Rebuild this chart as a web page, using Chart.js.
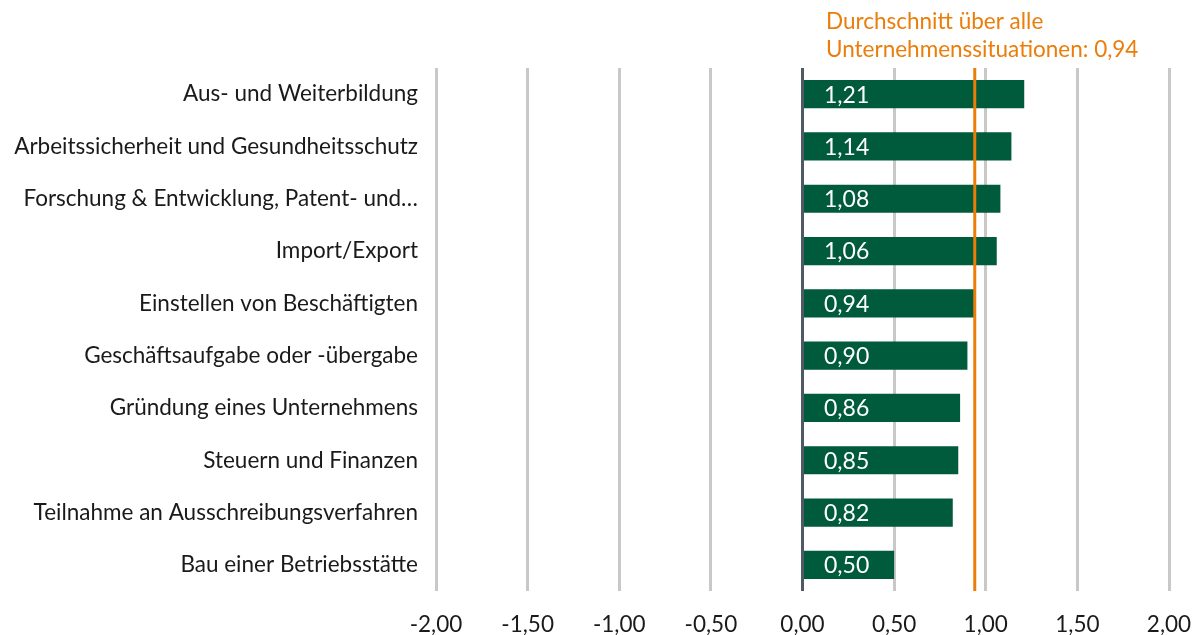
<!DOCTYPE html>
<html>
<head>
<meta charset="utf-8">
<script src="https://cdn.jsdelivr.net/npm/chart.js@4"></script>
<style>
  html, body { margin: 0; padding: 0; background: #fff; }
</style>
</head>
<body>
<canvas id="chart" width="1200" height="635"></canvas>
<script>
// Unternehmenssituationen, Mittelwerte
const situations = ["Aus- und Weiterbildung", "Arbeitssicherheit und Gesundheitsschutz",
    "Forschung & Entwicklung, Patent- und…", "Import/Export",
    "Einstellen von Beschäftigten", "Geschäftsaufgabe oder -übergabe",
    "Gründung eines Unternehmens", "Steuern und Finanzen",
    "Teilnahme an Ausschreibungsverfahren", "Bau einer Betriebsstätte"];
const scores = [1.21, 1.14, 1.08, 1.06, 0.94, 0.90, 0.86, 0.85, 0.82, 0.50];
const average = 0.94;
const averageText = ["Durchschnitt über alle", "Unternehmenssituationen: 0,94"];

const fontFamily = "Lato, 'Noto Sans', sans-serif";
const green = "#005A3C";
const orange = "#EB7D0A";

function deNum(v) {
    return v.toFixed(2).replace(".", ",");
}

// white value labels inside the bars
const valueLabels = {
    id: "valueLabels",
    afterDatasetsDraw(chart) {
        const ctx = chart.ctx;
        const meta = chart.getDatasetMeta(0);
        ctx.save();
        ctx.fillStyle = "#fff";
        ctx.font = "23px " + fontFamily;
        ctx.textAlign = "left";
        ctx.textBaseline = "middle";
        meta.data.forEach((bar, i) => {
            ctx.fillText(deNum(scores[i]), bar.base + 20, bar.y + 1);
        });
        ctx.restore();
    }
};

// orange average line + caption
const averageLine = {
    id: "averageLine",
    afterDatasetsDraw(chart) {
        const ctx = chart.ctx;
        const x = chart.scales.x.getPixelForValue(average);
        const area = chart.chartArea;
        ctx.save();
        ctx.strokeStyle = orange;
        ctx.lineWidth = 3;
        ctx.beginPath();
        ctx.moveTo(x, area.top);
        ctx.lineTo(x, area.bottom);
        ctx.stroke();
        ctx.fillStyle = orange;
        ctx.font = "22.5px " + fontFamily;
        ctx.textAlign = "left";
        ctx.textBaseline = "middle";
        ctx.fillText(averageText[0], 826, 22);
        ctx.fillText(averageText[1], 826, 50);
        ctx.restore();
    }
};

new Chart("chart", {
    type: "bar",
    data: {
        labels: situations,
        datasets: [
            {
                data: scores,
                backgroundColor: green,
                borderWidth: 0,
                categoryPercentage: 1,
                barPercentage: 0.54
            }
        ]
    },
    options: {
        indexAxis: "y",
        responsive: false,
        animation: false,
        layout: { padding: { top: 68, right: 31, left: 0, bottom: 0 } },
        plugins: {
            legend: { display: false },
            tooltip: { enabled: false }
        },
        scales: {
            x: {
                min: -2,
                max: 2,
                ticks: {
                    stepSize: 0.5,
                    color: "#1a1a1a",
                    font: { family: fontFamily, size: 22.5 },
                    padding: 20,
                    callback: (v) => deNum(v)
                },
                grid: {
                    drawTicks: false,
                    lineWidth: 3,
                    color: (c) => c.tick && c.tick.value === 0 ? "#505A62" : "#C8C8C8"
                },
                border: { display: false },
                afterFit(scale) {
                    scale.height = 44;
                    scale.paddingLeft = 0;
                    scale.paddingRight = 0;
                }
            },
            y: {
                ticks: {
                    color: "#1a1a1a",
                    font: { family: fontFamily, size: 22.5 },
                    padding: 18
                },
                grid: { display: false, drawTicks: false },
                border: { display: false },
                afterFit(scale) { scale.width = 436; }
            }
        }
    },
    plugins: [valueLabels, averageLine]
});
</script>
</body>
</html>
